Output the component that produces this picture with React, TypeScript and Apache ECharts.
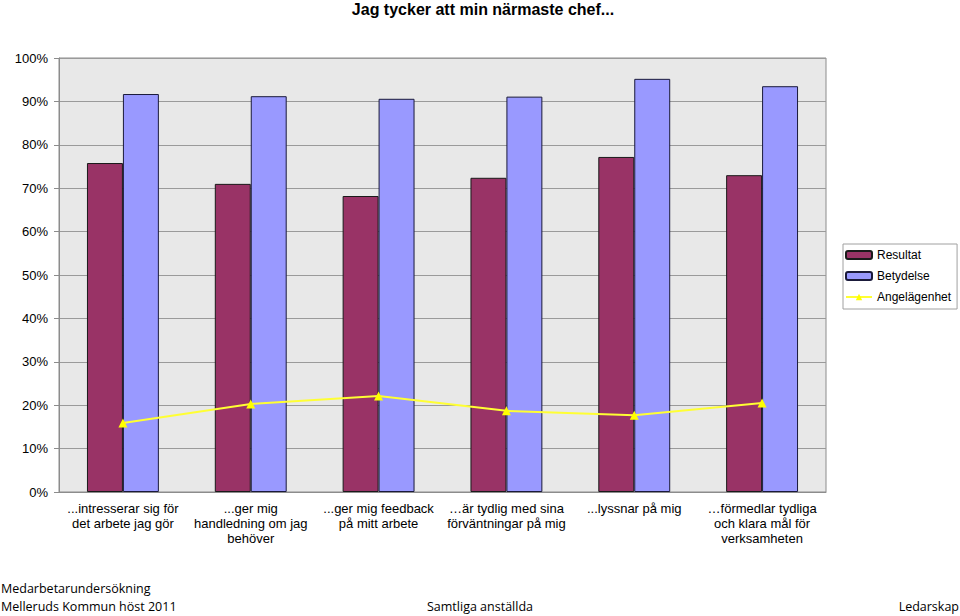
import React, { useEffect, useRef } from "react";
import * as echarts from "echarts";

const categories = [
  "...intresserar sig för\ndet arbete jag gör",
  "...ger mig\nhandledning om jag\nbehöver",
  "...ger mig feedback\npå mitt arbete",
  "…är tydlig med sina\nförväntningar på mig",
  "...lyssnar på mig",
  "…förmedlar tydliga\noch klara mål för\nverksamheten",
];
const resultat = [75.8, 71.0, 68.2, 72.4, 77.2, 73.0];
const betydelse = [91.7, 91.2, 90.6, 91.1, 95.2, 93.5];
const angelagenhet = [15.9, 20.3, 22.1, 18.7, 17.7, 20.5];
const yTicks = [0, 10, 20, 30, 40, 50, 60, 70, 80, 90, 100];

export default function App() {
  const ref = useRef<HTMLDivElement>(null);
  useEffect(() => {
    if (!ref.current) return;
    const chart = echarts.init(ref.current, null, { renderer: "svg" });
    const font = "'Liberation Sans', Arial, sans-serif";
    const footFont = "'Open Sans', 'Noto Sans', sans-serif";
    chart.setOption({
      animation: false,
      backgroundColor: "#ffffff",
      textStyle: { fontFamily: font },
      grid: {
        left: 59,
        top: 58,
        right: 134,
        bottom: 124,
        show: true,
        backgroundColor: "#E8E8E8",
        borderColor: "#8C8C8C",
        borderWidth: 1,
      },
      legend: {
        orient: "vertical",
        left: 843,
        top: 244,
        padding: [5, 6, 6, 2],
        itemGap: 9,
        itemWidth: 26,
        itemHeight: 8,
        borderColor: "#A0A0A0",
        borderWidth: 1,
        backgroundColor: "#ffffff",
        textStyle: { fontFamily: font, fontSize: 12, color: "#000" },
        data: ["Resultat", "Betydelse", "Angelägenhet"],
      },
      xAxis: {
        type: "category",
        data: categories,
        boundaryGap: true,
        axisLine: { lineStyle: { color: "#8C8C8C" } },
        axisTick: { show: false },
        axisLabel: {
          interval: 0,
          color: "#000",
          fontSize: 13,
          lineHeight: 15,
          margin: 9,
          fontFamily: font,
        },
      },
      yAxis: {
        type: "value",
        min: 0,
        max: 100,
        interval: 10,
        axisLine: { show: true, lineStyle: { color: "#8C8C8C" } },
        axisTick: { show: true, length: 5, lineStyle: { color: "#8C8C8C" } },
        splitLine: { lineStyle: { color: "#9A9A9A", width: 1 } },
        axisLabel: {
          color: "#000",
          fontSize: 13,
          margin: 11,
          fontFamily: font,
          formatter: (v: number) => (yTicks.includes(v) ? v + "%" : ""),
        },
      },
      series: [
        {
          name: "Resultat",
          type: "bar",
          data: resultat,
          barGap: "0%",
          barCategoryGap: "43.75%",
          itemStyle: { color: "#993366", borderColor: "#1a1a1a", borderWidth: 1 },
        },
        {
          name: "Betydelse",
          type: "bar",
          data: betydelse,
          itemStyle: { color: "#9999FF", borderColor: "#1a1a3a", borderWidth: 1 },
        },
        {
          name: "Angelägenhet",
          type: "line",
          data: angelagenhet,
          symbol: "triangle",
          symbolSize: 9,
          lineStyle: { color: "#FFFF33", width: 2 },
          itemStyle: { color: "#FFFF00" },
          z: 5,
        },
      ],
      graphic: [
        {
          type: "text",
          x: 483,
          y: 9,
          style: {
            text: "Jag tycker att min närmaste chef...",
            font: "bold 16px 'Liberation Sans', Arial, sans-serif",
            fill: "#000",
            textAlign: "center",
            textVerticalAlign: "middle",
          },
        },
        {
          type: "text",
          x: 1,
          y: 588,
          style: {
            text: "Medarbetarundersökning",
            font: "12.5px " + footFont,
            fill: "#000",
            textVerticalAlign: "middle",
          },
        },
        {
          type: "text",
          x: 1,
          y: 606,
          style: {
            text: "Melleruds Kommun höst 2011",
            font: "12.5px " + footFont,
            fill: "#000",
            textVerticalAlign: "middle",
          },
        },
        {
          type: "text",
          x: 480,
          y: 606,
          style: {
            text: "Samtliga anställda",
            font: "12.5px " + footFont,
            fill: "#000",
            textAlign: "center",
            textVerticalAlign: "middle",
          },
        },
        {
          type: "text",
          x: 959,
          y: 606,
          style: {
            text: "Ledarskap",
            font: "12.5px " + footFont,
            fill: "#000",
            textAlign: "right",
            textVerticalAlign: "middle",
          },
        },
      ],
    });
    return () => chart.dispose();
  }, []);
  return (
    <div
      ref={ref}
      style={{ position: "fixed", left: 0, top: 0, width: 960, height: 616 }}
    />
  );
}
